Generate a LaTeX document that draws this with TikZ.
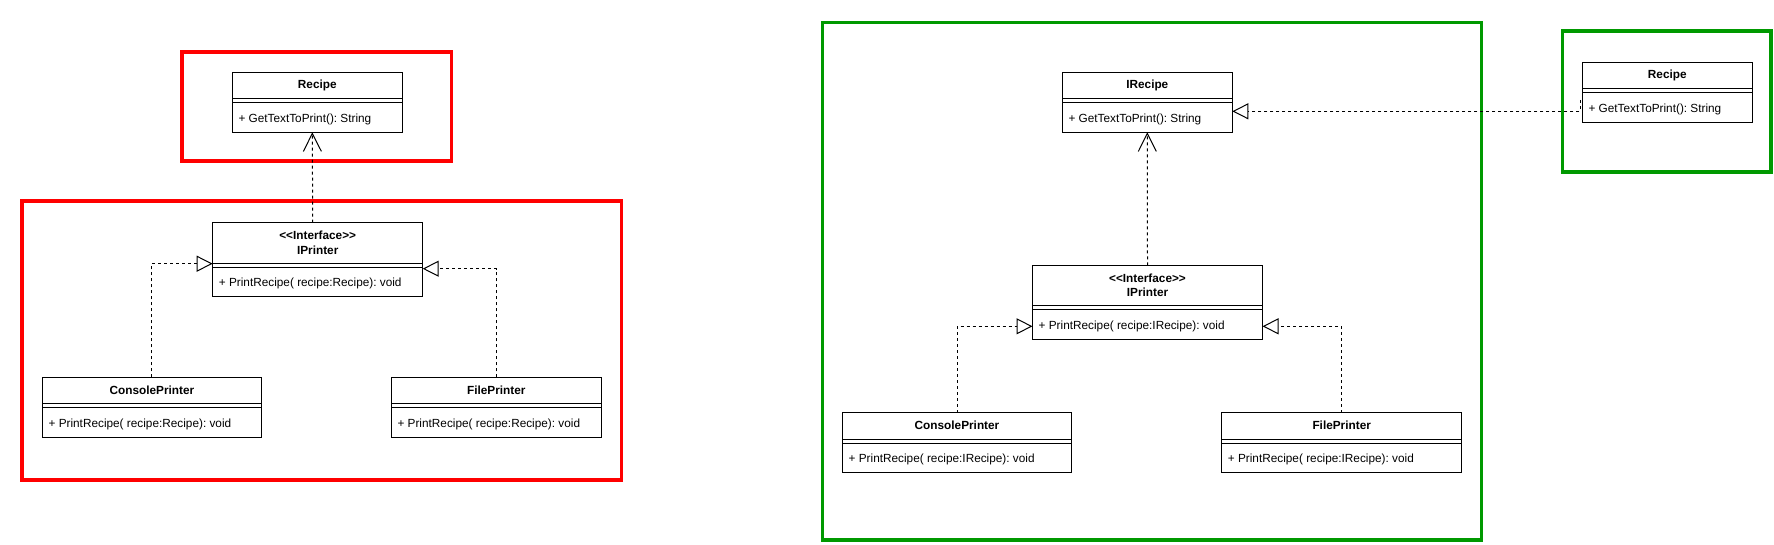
\documentclass[tikz,border=0pt]{standalone}
\usepackage{fontspec}
\setmainfont{Liberation Sans}
\usetikzlibrary{arrows.meta,calc}
\definecolor{framered}{RGB}{255,0,0}
\definecolor{framegreen}{RGB}{0,153,0}
\frenchspacing

% class box: name, north west corner, width, header height, title, method
\newcommand{\umlclass}[6]{%
  \node[clsbox, minimum width=#3, minimum height=#4+34] (#1) at (#2) {};
  \draw ([yshift=-#4]#1.north west) -- ([yshift=-#4]#1.north east);
  \draw ([yshift=-#4-4]#1.north west) -- ([yshift=-#4-4]#1.north east);
  \node[clstitle] at ([yshift=-#4/2]#1.north) {#5};
  \node[clsmethod] at ([yshift=13]#1.south west) {#6};
}

\begin{document}
\begin{tikzpicture}[x=1pt,y=-1pt,
    clsbox/.style={draw, line width=1pt, fill=white, inner sep=0pt, outer sep=0pt, anchor=north west},
    clstitle/.style={align=center, inner sep=0pt, font=\bfseries\fontsize{11.8}{14.3}\selectfont},
    clsmethod/.style={anchor=west, xshift=6pt, inner sep=0pt, font=\fontsize{11.8}{14.3}\selectfont},
    dep/.style={line width=1pt, dash pattern=on 3pt off 3pt, -{Straight Barb[length=18pt,width=18pt]}},
    realize/.style={line width=1pt, dash pattern=on 3pt off 3pt, -{Triangle[open,length=16pt,width=16pt]}},
    redframe/.style={draw=framered, line width=3.5pt},
    greenframe/.style={draw=framegreen, line width=3.5pt}]
\useasboundingbox (0,0) rectangle (1774,544);

% left diagram
\draw[redframe] (182,52) rectangle (451.5,161);
\draw[redframe] (22,201) rectangle (621.5,480);
\umlclass{recipeA}{232.3,72.3}{170}{26}{Recipe}{+ GetTextToPrint(): String}
\umlclass{iprinterA}{212.7,222.7}{210}{40}{<\kern0pt<Interface>\kern0pt>\\IPrinter}{+ PrintRecipe( recipe:Recipe): void}
\umlclass{consoleA}{42.4,377.3}{219}{26}{ConsolePrinter}{+ PrintRecipe( recipe:Recipe): void}
\umlclass{fileA}{391.3,377.3}{210}{26}{FilePrinter}{+ PrintRecipe( recipe:Recipe): void}
\draw[dep] ([xshift=-5]iprinterA.north) -- ([xshift=-5]recipeA.south);
\draw[realize] (consoleA.north) |- ([yshift=-41]iprinterA.north west);
\draw[realize] (fileA.north) |- ([yshift=-46]iprinterA.north east);

% right diagram
\draw[greenframe] (822.7,22.7) rectangle (1481.7,540);
\draw[greenframe] (1562.3,31) rectangle (1771,172);
\umlclass{irecipeB}{1062.3,72.3}{170}{26}{IRecipe}{+ GetTextToPrint(): String}
\umlclass{iprinterB}{1032.5,265.3}{230}{40}{<\kern0pt<Interface>\kern0pt>\\IPrinter}{+ PrintRecipe( recipe:IRecipe): void}
\umlclass{consoleB}{842.5,412.7}{229}{26}{ConsolePrinter}{+ PrintRecipe( recipe:IRecipe): void}
\umlclass{fileB}{1221.7,412.7}{240}{26}{FilePrinter}{+ PrintRecipe( recipe:IRecipe): void}
\umlclass{recipeB}{1582.3,62.3}{170}{26}{Recipe}{+ GetTextToPrint(): String}
\draw[dep] (iprinterB.north) -- (irecipeB.south);
\draw[realize] (consoleB.north) |- ([yshift=13]iprinterB.south west);
\draw[realize] (fileB.north) |- ([yshift=13]iprinterB.south east);
\coordinate (stub) at ([xshift=-2,yshift=-38]recipeB.north west);
\draw[realize] (stub) |- ([yshift=-39]irecipeB.north east);
\end{tikzpicture}
\end{document}
